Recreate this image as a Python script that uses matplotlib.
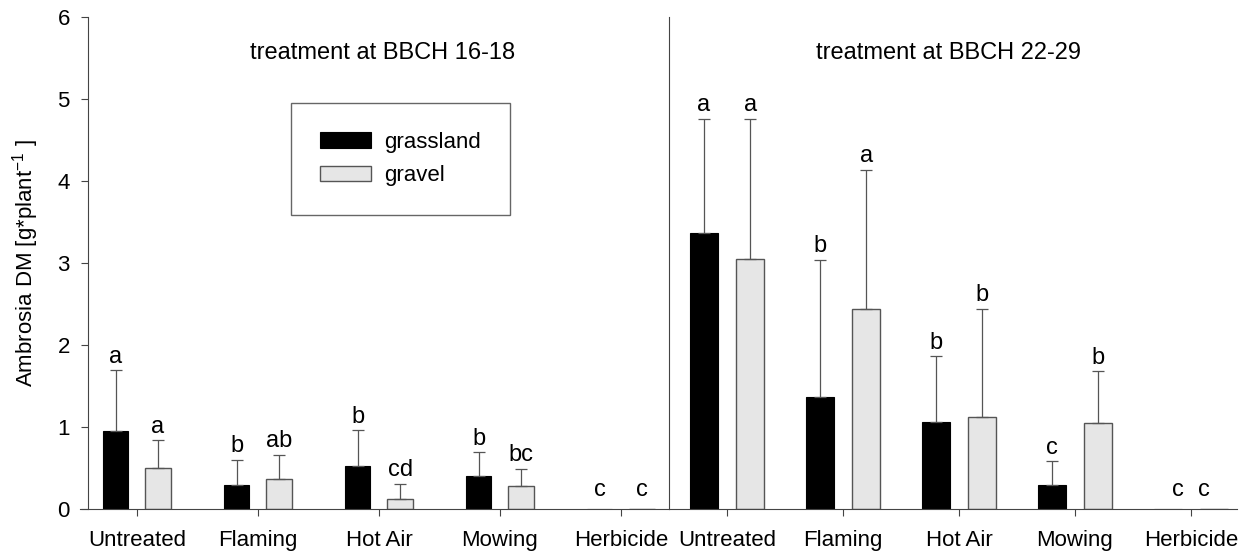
import numpy as np
import matplotlib
matplotlib.use("Agg")
import matplotlib.pyplot as plt

plt.rcParams['font.family'] = ['Liberation Sans', 'DejaVu Sans']

categories = ["Untreated", "Flaming", "Hot Air", "Mowing", "Herbicide"]
series = ["grassland", "gravel"]

# treatment at BBCH 16-18
early_grass = [0.95, 0.29, 0.53, 0.40, 0.0]
early_grass_err = [0.74, 0.31, 0.43, 0.29, 0.0]
early_gravel = [0.50, 0.36, 0.12, 0.28, 0.0]
early_gravel_err = [0.34, 0.30, 0.19, 0.21, 0.0]
early_grass_lbl = ["a", "b", "b", "b", "c"]
early_gravel_lbl = ["a", "ab", "cd", "bc", "c"]

# treatment at BBCH 22-29
late_grass = [3.37, 1.37, 1.06, 0.29, 0.0]
late_grass_err = [1.39, 1.67, 0.80, 0.29, 0.0]
late_gravel = [3.05, 2.44, 1.12, 1.05, 0.0]
late_gravel_err = [1.71, 1.70, 1.32, 0.63, 0.0]
late_grass_lbl = ["a", "b", "b", "c", "c"]
late_gravel_lbl = ["a", "a", "b", "b", "c"]

W, H = 1240, 556
fig = plt.figure(figsize=(W / 100, H / 100), dpi=100)

y0, y1 = 509, 17
ax1 = fig.add_axes([80 / W, (H - y0) / H, (669 - 80) / W, (y0 - y1) / H])
ax2 = fig.add_axes([669 / W, (H - y0) / H, (1237 - 669) / W, (y0 - y1) / H])

gray_fc = "#e6e6e6"
err_col = "#555555"
FS = 16


def draw(ax, grass, grass_err, gravel, gravel_err, lg, lv, off, width, zoff):
    x = np.arange(len(categories))
    b1 = ax.bar(x - off, grass, width, color="black", edgecolor="black",
                linewidth=0.8, label=series[0])
    b2 = ax.bar(x + off, gravel, width, color=gray_fc, edgecolor="#555555",
                linewidth=1.0, label=series[1])
    for xs, vals, errs in [(x - off, grass, grass_err), (x + off, gravel, gravel_err)]:
        for xi, v, e in zip(xs, vals, errs):
            if v > 0:
                ax.errorbar(xi, v, yerr=[[0], [e]], fmt="none", ecolor=err_col,
                            elinewidth=0.9, capsize=4.5, capthick=0.9)
    for xs, vals, errs, labs in [(x - off, grass, grass_err, lg), (x + off, gravel, gravel_err, lv)]:
        for i, (xi, v, e, t) in enumerate(zip(xs, vals, errs, labs)):
            if v > 0:
                ax.text(xi, v + e + 0.03, t, ha="center", va="bottom", fontsize=17)
            else:
                xx = i - zoff if xi < i else i + zoff
                ax.text(xx, 0.1, t, ha="center", va="bottom", fontsize=17)
    ax.set_ylim(0, 6)
    ax.set_xticks(x)
    ax.set_xticklabels(categories, fontsize=FS)
    ax.tick_params(axis="x", direction="out", length=5, pad=10, color="#444444")
    ax.spines["top"].set_visible(False)
    ax.spines["right"].set_visible(False)
    ax.spines["bottom"].set_color("#444444")
    ax.spines["left"].set_color("#444444")
    return b1, b2


b1, b2 = draw(ax1, early_grass, early_grass_err, early_gravel, early_gravel_err,
              early_grass_lbl, early_gravel_lbl, 0.175, 0.21, 0.17)
draw(ax2, late_grass, late_grass_err, late_gravel, late_gravel_err,
     late_grass_lbl, late_gravel_lbl, 0.2, 0.24, 0.11)

ax1.set_xlim(-0.47, 4.397)
ax1.spines["left"].set_position(("data", -0.405))
ax1.set_yticks(range(7))
ax1.tick_params(axis="y", direction="out", length=5, pad=8, labelsize=FS, color="#444444")
ax1.set_ylabel("Ambrosia DM [g*plant$^{\\mathregular{-1}}$ ]", fontsize=16, labelpad=12)

ax2.set_xlim(-0.5, 4.397)
ax2.set_yticks([])

ax1.text((383 - 80) / (669 - 80), (509 - 53) / 492, "treatment at BBCH 16-18",
         transform=ax1.transAxes, ha="center", va="center", fontsize=17)
ax2.text((948 - 669) / (1237 - 669), (509 - 53) / 492, "treatment at BBCH 22-29",
         transform=ax2.transAxes, ha="center", va="center", fontsize=17)

leg = ax1.legend(handles=[b1, b2], loc="upper left",
                 bbox_to_anchor=((291 - 80) / (669 - 80), (509 - 103) / 492),
                 fontsize=16, handlelength=2.3, handleheight=0.7, borderpad=1.3,
                 labelspacing=0.55, handletextpad=0.6, borderaxespad=0,
                 fancybox=False, edgecolor="#666666", framealpha=1)
leg.get_frame().set_linewidth(1.0)

fig.savefig("out.png", dpi=100)
